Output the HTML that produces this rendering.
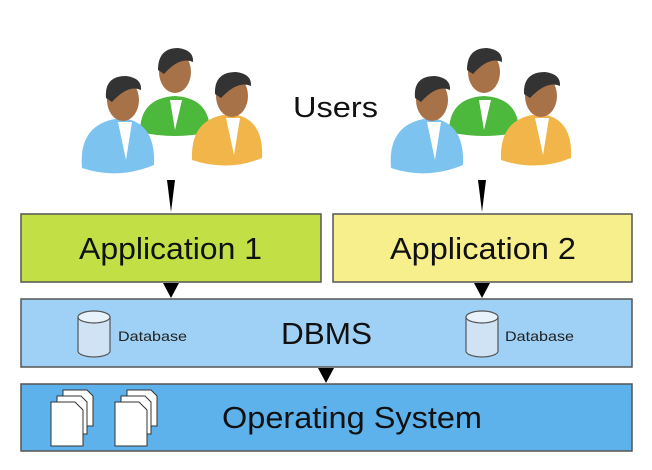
<!DOCTYPE html>
<html><head><meta charset="utf-8"><style>
html,body{margin:0;padding:0;background:#fff;width:652px;height:470px;overflow:hidden}
text{font-family:"Liberation Sans",sans-serif}
</style></head><body>
<svg width="652" height="470" viewBox="0 0 652 470" xmlns="http://www.w3.org/2000/svg">
<defs>
<g id="ppl">
  <path d="M140 132 Q140 98 175 96 Q210 98 210 132 Q175 140 140 132Z" fill="#4cb83c"/>
  <path d="M170 100 L175 130 L182 100Z" fill="#fff"/>
  <ellipse cx="175" cy="72" rx="16" ry="21" fill="#a87248"/>
  <path d="M158 70 Q158 48 178 48 Q194 50 193 62 Q180 56 164 74Z" fill="#333"/>
  <path d="M82 168 Q78 122 122 118 Q156 122 154 165 Q118 180 82 168Z" fill="#7cc3ef"/>
  <path d="M118 122 L126 160 L132 122Z" fill="#fff"/>
  <ellipse cx="123" cy="100" rx="16" ry="21" fill="#a87248"/>
  <path d="M106 98 Q104 76 126 76 Q142 78 141 90 Q128 84 112 102Z" fill="#333"/>
  <path d="M192 160 Q190 116 232 114 Q264 118 262 158 Q228 172 192 160Z" fill="#f2b54a"/>
  <path d="M226 118 L234 155 L240 118Z" fill="#fff"/>
  <ellipse cx="232" cy="96" rx="16" ry="21" fill="#a87248"/>
  <path d="M215 94 Q214 72 236 72 Q252 74 251 86 Q238 80 221 98Z" fill="#333"/>
</g>
<g id="cyl">
  <path d="M0 6 L0 40 A16 6 0 0 0 32 40 L32 6Z" fill="#cfe3f5" stroke="#555" stroke-width="1.2"/>
  <ellipse cx="16" cy="6" rx="16" ry="6" fill="#e8f2fb" stroke="#555" stroke-width="1.2"/>
</g>
<g id="doc">
  <path d="M12 0 L36 0 L42 6 L42 36 L12 36Z" fill="#fff" stroke="#333"/>
  <path d="M6 6 L30 6 L36 12 L36 44 L6 44Z" fill="#fff" stroke="#333"/>
  <path d="M0 12 L24 12 L32 20 L32 56 L0 56Z" fill="#fff" stroke="#333"/>
</g>
</defs>
<use href="#ppl"/>
<use href="#ppl" x="309"/>
<text x="293" y="117" font-size="29" fill="#111" textLength="85" lengthAdjust="spacingAndGlyphs">Users</text>

<path d="M167 180 L175 180 L171 212Z" fill="#000"/>
<path d="M478 180 L486 180 L482 212Z" fill="#000"/>

<rect x="21" y="214" width="300" height="68" fill="#c2e045" stroke="#555" stroke-width="1.5"/>
<rect x="333" y="214" width="299" height="68" fill="#f7ef8c" stroke="#555" stroke-width="1.5"/>
<text x="79" y="259" font-size="31" fill="#111" textLength="183" lengthAdjust="spacingAndGlyphs">Application 1</text>
<text x="390" y="259" font-size="31" fill="#111" textLength="186" lengthAdjust="spacingAndGlyphs">Application 2</text>

<path d="M163 283 L179 283 L171 298Z" fill="#000"/>
<path d="M474 283 L490 283 L482 298Z" fill="#000"/>

<rect x="21" y="299" width="611" height="68" fill="#9fd0f5" stroke="#555" stroke-width="1.5"/>
<text x="281" y="344" font-size="31" fill="#111" textLength="91" lengthAdjust="spacingAndGlyphs">DBMS</text>
<use href="#cyl" x="78" y="311"/>
<use href="#cyl" x="466" y="311"/>
<text x="118" y="341" font-size="14" fill="#222" textLength="69" lengthAdjust="spacingAndGlyphs">Database</text>
<text x="505" y="341" font-size="14" fill="#222" textLength="69" lengthAdjust="spacingAndGlyphs">Database</text>

<path d="M318 368 L334 368 L326 383Z" fill="#000"/>

<rect x="21" y="384" width="611" height="67" fill="#5db2ec" stroke="#555" stroke-width="1.5"/>
<use href="#doc" x="51" y="390"/>
<use href="#doc" x="115" y="390"/>
<text x="222" y="428" font-size="31" fill="#111" textLength="260" lengthAdjust="spacingAndGlyphs">Operating System</text>
</svg>
</body></html>
